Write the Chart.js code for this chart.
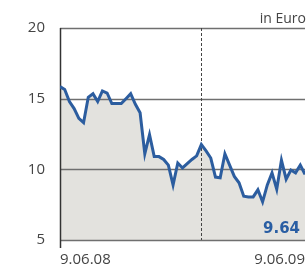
<!DOCTYPE html>
<html>
<head>
<meta charset="utf-8">
<script src="https://cdn.jsdelivr.net/npm/chart.js@4/dist/chart.umd.min.js"></script>
<style>
  html, body { margin: 0; padding: 0; background: #fff; }
  canvas { display: block; }
</style>
</head>
<body>
<canvas id="kurs" width="308" height="265"></canvas>
<script>
// weekly closing price, 9.06.08 - 9.06.09
const kurse = [15.85, 15.65, 14.8, 14.3, 13.6, 13.3, 15.1, 15.35, 14.8, 15.55,
    15.4, 14.65, 14.65, 14.65, 15.0, 15.35, 14.6, 14.0, 11.1, 12.45,
    10.9, 10.9, 10.7, 10.3, 8.9, 10.45, 10.1, 10.4, 10.7, 10.95,
    11.75, 11.3, 10.8, 9.45, 9.4, 11.1, 10.3, 9.5, 9.05, 8.1,
    8.05, 8.05, 8.55, 7.7, 8.9, 9.75, 8.6, 10.65, 9.3, 9.95,
    9.75, 10.3, 9.64];
const datumLabels = ['9.06.08', '9.06.09'];
const yTicks = [5, 10, 15, 20];
const jahresWechsel = 30; // week of 1.01.09
const einheit = 'in Euro';
const letzterKurs = '9.64';

const wochen = kurse.map((k, i) => i);
const ctx = document.getElementById('kurs');

// grid above the fill, below the line
const gitter = {
    id: 'gitter',
    beforeDatasetDraw(chart) {
        const c = chart.ctx;
        const a = chart.chartArea;
        const y = chart.scales.y;
        const x = chart.scales.x;
        c.save();
        c.strokeStyle = '#6f6f6f';
        c.lineWidth = 1.5;
        yTicks.forEach(t => {
            const py = Math.round(y.getPixelForValue(t)) + 0.5;
            c.beginPath();
            c.moveTo(a.left, py);
            c.lineTo(a.right, py);
            c.stroke();
        });
        c.strokeStyle = '#333';
        c.beginPath();
        c.moveTo(a.left + 0.5, y.getPixelForValue(20));
        c.lineTo(a.left + 0.5, y.getPixelForValue(5) + 8);
        c.stroke();
        const px = Math.round(x.getPixelForValue(jahresWechsel)) + 0.5;
        c.strokeStyle = '#444';
        c.lineWidth = 1;
        c.setLineDash([3, 2]);
        c.beginPath();
        c.moveTo(px, y.getPixelForValue(20));
        c.lineTo(px, y.getPixelForValue(5));
        c.stroke();
        c.restore();
    },
    afterDraw(chart) {
        const c = chart.ctx;
        c.save();
        c.textAlign = 'right';
        c.fillStyle = '#444';
        c.font = '14px "Open Sans"';
        c.fillText(einheit, 306, 23);
        c.fillStyle = '#2a5ea3';
        c.font = 'bold 15px "DejaVu Sans"';
        c.fillText(letzterKurs, 300, 233);
        c.restore();
    }
};

new Chart(ctx, {
    type: 'line',
    data: {
        labels: wochen,
        datasets: [{
            data: kurse.map((k, i) => ({ x: wochen[i], y: k })),
            borderColor: '#2c5d9f',
            borderWidth: 3,
            backgroundColor: '#e3e2de',
            fill: 'start',
            pointRadius: 0,
            tension: 0
        }]
    },
    options: {
        responsive: false,
        animation: false,
        layout: { padding: { top: 28, right: 1, left: 0, bottom: 0 } },
        plugins: { legend: { display: false }, tooltip: { enabled: false } },
        scales: {
            x: {
                type: 'linear',
                min: 0,
                max: kurse.length - 1,
                grid: { display: false },
                border: { display: false },
                afterFit: s => { s.height = 25; },
                ticks: {
                    stepSize: kurse.length - 1,
                    align: 'inner',
                    maxRotation: 0,
                    padding: 3,
                    color: '#444',
                    font: { family: 'Open Sans', size: 15 },
                    callback: v => v === 0 ? datumLabels[0] : (v === kurse.length - 1 ? datumLabels[1] : '')
                }
            },
            y: {
                min: 5,
                max: 20,
                grid: { display: false },
                border: { display: false },
                afterFit: s => { s.width = 60; },
                ticks: {
                    stepSize: 5,
                    padding: 7,
                    color: '#444',
                    font: { family: 'Open Sans', size: 15 }
                }
            }
        }
    },
    plugins: [gitter]
});
</script>
</body>
</html>
